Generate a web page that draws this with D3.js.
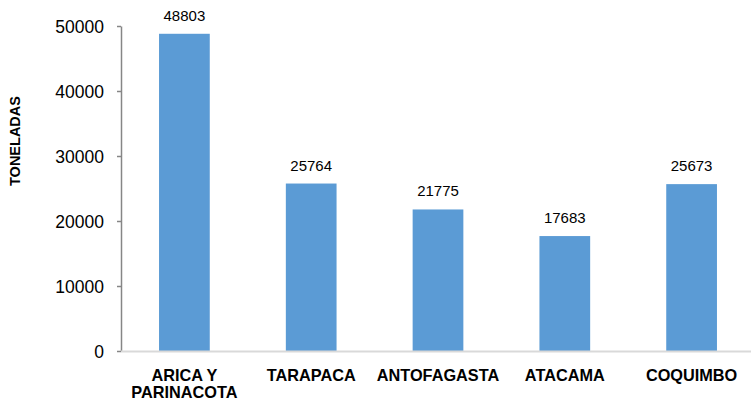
<!DOCTYPE html>
<html><head><meta charset="utf-8">
<script src="https://cdn.jsdelivr.net/npm/d3@7"></script>
<style>body{margin:0;background:#fff}svg{display:block}text{font-family:"Liberation Sans",Arial,sans-serif}</style>
</head><body><svg id="c" width="751" height="405"></svg>
<script>
const categories = [["ARICA Y","PARINACOTA"],["TARAPACA"],["ANTOFAGASTA"],["ATACAMA"],["COQUIMBO"]];
const values = [48803, 25764, 21775, 17683, 25673];
const yTicks = [0, 10000, 20000, 30000, 40000, 50000];
const yTitle = "TONELADAS";

const svg = d3.select("#c");
const x = d3.scaleBand().domain(d3.range(values.length)).range([121, 755]).paddingInner(0.6).paddingOuter(0.3);
const y = d3.scaleLinear().domain([0, 50000]).range([351, 26]);

// y axis
const ya = svg.append("g").attr("transform","translate(121,0)")
  .call(d3.axisLeft(y).tickValues(yTicks).tickSize(4).tickSizeOuter(0).tickFormat(d3.format("d")));
ya.select(".domain").attr("stroke","#868686").attr("stroke-width",1.5);
ya.selectAll(".tick line").attr("stroke","#868686").attr("stroke-width",1.5);
ya.selectAll(".tick text").attr("font-size","17.5px").attr("fill","#000").attr("x",-17).attr("dy","0.35em");

// bars
svg.append("g").selectAll("rect").data(values).join("rect")
  .attr("x",(d,i)=>x(i)).attr("width",x.bandwidth())
  .attr("y",d=>y(d)).attr("height",d=>y(0)-y(d))
  .attr("fill","#5B9BD5");

// x axis line
svg.append("line").attr("x1",121).attr("x2",751).attr("y1",351.5).attr("y2",351.5)
  .attr("stroke","#d9d9d9").attr("stroke-width",2);

// value labels
svg.append("g").selectAll("text").data(values).join("text")
  .attr("x",(d,i)=>x(i)+x.bandwidth()/2).attr("y",d=>y(d)-13)
  .attr("text-anchor","middle").attr("font-size","15px").attr("fill","#000").text(d=>d);

// category labels
const cl = svg.append("g").selectAll("text").data(categories).join("text")
  .attr("x",(d,i)=>x(i)+x.bandwidth()/2).attr("y",381)
  .attr("text-anchor","middle").attr("font-size","16.3px").attr("font-weight","bold").attr("fill","#000");
cl.selectAll("tspan").data(d=>d).join("tspan")
  .attr("x",function(){return this.parentNode.getAttribute("x");})
  .attr("dy",(d,i)=>i?17:0).text(d=>d);

// y title
svg.append("text").attr("transform","translate(20,141) rotate(-90)")
  .attr("text-anchor","middle").attr("font-size","14.5px").attr("font-weight","bold").text(yTitle);
</script></body></html>
